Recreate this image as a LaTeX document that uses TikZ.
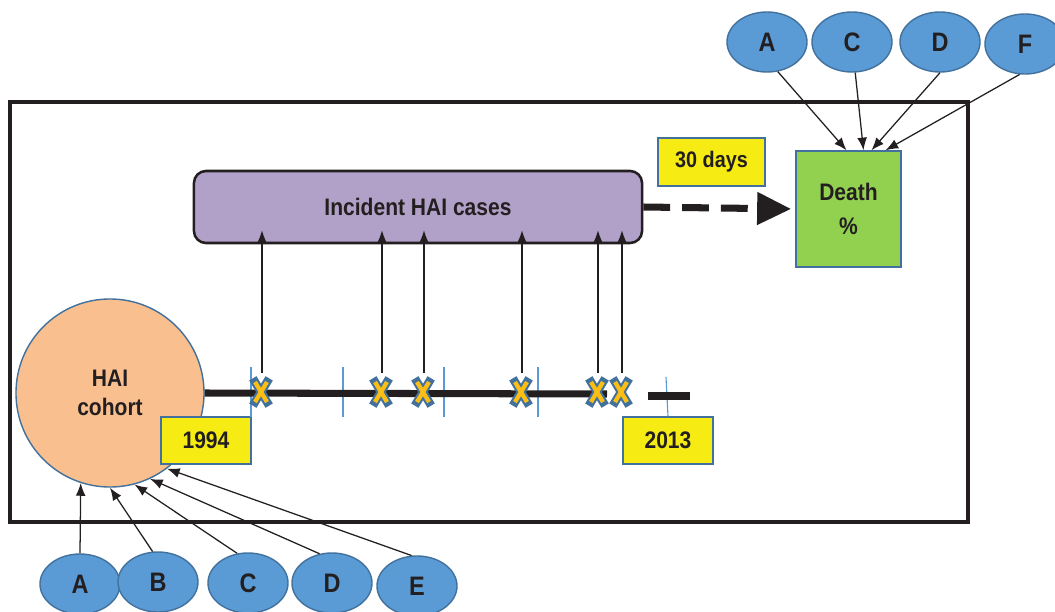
\documentclass[tikz,border=0pt]{standalone}
\usepackage{fontspec}
\setmainfont{Liberation Sans}[FakeStretch=0.88]
\usetikzlibrary{arrows.meta,calc,positioning,shapes.geometric}
\definecolor{ink}{RGB}{35,31,32}
\definecolor{ovalblue}{RGB}{91,155,213}
\definecolor{edgeblue}{RGB}{65,113,156}
\definecolor{casepurple}{RGB}{177,160,199}
\definecolor{haiorange}{RGB}{249,191,143}
\definecolor{tagyellow}{RGB}{246,236,20}
\definecolor{deathgreen}{RGB}{146,208,80}
\definecolor{xyellow}{RGB}{252,190,20}

\begin{document}
\begin{tikzpicture}[x=0.025cm,y=-0.025cm,>={Latex[length=9pt,width=7pt]},
    lbl/.style={font=\bfseries\fontsize{17}{20}\selectfont,text=ink,align=center},
    oval/.style={lbl,ellipse,draw=edgeblue,fill=ovalblue,line width=1pt,
                 minimum width=2cm,minimum height=1.5cm,inner sep=0pt,
                 font=\bfseries\fontsize{19}{22}\selectfont},
    yearbox/.style={lbl,draw=edgeblue,fill=tagyellow,line width=1pt,
                 minimum width=2.25cm,minimum height=1.17cm,inner sep=0pt},
    arr/.style={->,ink,line width=0.9pt},
    tickline/.style={ovalblue,line width=0.8pt}]
  \useasboundingbox (0,0) rectangle (1055,612);
  % outer frame
  \draw[ink,line width=2.8pt] (10,102) rectangle (968,522);
  % incident cases
  \node[lbl,draw=ink,fill=casepurple,rounded corners=0.3cm,line width=1.8pt,
        minimum width=11.2cm,minimum height=1.8cm] (cases) at (418,207) {Incident HAI cases};
  % 30 days and death
  \node[yearbox,minimum width=2.67cm,minimum height=1.2cm,
        font=\bfseries\fontsize{16}{19}\selectfont] (days) at (711.5,162) {30 days};
  \node[lbl,draw=edgeblue,fill=deathgreen,line width=1pt,
        minimum width=2.62cm,minimum height=2.9cm] (death) at (848.5,209) {Death\\[4pt]\%};
  \draw[ink,line width=5pt,dash pattern=on 0.67cm off 0.3cm,shorten >=3pt,
        -{Triangle[length=0.85cm,width=0.78cm]}] (cases.east) -- (death.west);
  % cohort circle
  \node[lbl,circle,draw=edgeblue,fill=haiorange,line width=1pt,
        minimum size=4.7cm,inner sep=0pt] (hai) at (110,393) {HAI\\[1pt]cohort};
  % years
  \node[yearbox] (y1994) at (206,440.5) {1994};
  \node[yearbox] (y2013) at (668,440.5) {2013};
  % timeline
  \foreach \x in {251,343,444,538}
    \draw[tickline] (\x,367) -- (\x,417);
  \draw[tickline] (666,377) -- (y2013.north);
  \draw[ink,line width=5pt] (hai.east) -- (607,394);
  \draw[ink,line width=5pt] (648,396) -- (690,396);
  % incident cases on the timeline
  \foreach \n/\x in {1/261,2/381,3/423,4/521,5/597,6/621} {
    \coordinate (x\n) at (\x,392);
    \draw[arr] ($(x\n)+(1,-19)$) -- ($(x\n |- cases.south)+(1,-14)$);
  }
  \foreach \n in {1,...,6} {
    \draw[edgeblue,line width=6pt,line cap=rect]
      ($(x\n)+(-6,-10)$) -- ($(x\n)+(6,10)$) ($(x\n)+(6,-10)$) -- ($(x\n)+(-6,10)$);
    \draw[xyellow,line width=3pt]
      ($(x\n)+(-6,-10)$) -- ($(x\n)+(6,10)$) ($(x\n)+(6,-10)$) -- ($(x\n)+(-6,10)$);
  }
  % factors for death
  \node[oval] (tA) at (767,42) {A};
  \node[oval] (tC) at (852,42) {C};
  \node[oval] (tD) at (940,42) {D};
  \node[oval] (tF) at (1025,44) {F};
  \draw[arr] (tA.-70) -- ($(death.north)+(-2,0)$);
  \draw[arr] (tC.-84) -- ($(death.north)+(15,0)$);
  \draw[arr] (tD.south) -- ($(death.north)+(23,0)$);
  \draw[arr] (tF.-100) -- ($(death.north)+(37,0)$);
  % factors for cohort
  \node[oval] (bA) at (80,584) {A};
  \node[oval] (bB) at (158,582) {B};
  \node[oval] (bC) at (248,583) {C};
  \node[oval] (bD) at (332,583) {D};
  \node[oval] (bE) at (417,586) {E};
  \draw[arr] (bA.north) -- (hai.-108);
  \draw[arr] (bB.100) -- (hai.-90);
  \draw[arr] (bC.110) -- (hai.-75);
  \draw[arr] (bD.113) -- (hai.-65);
  \draw[arr] (bE.100) -- (hai.-53);
\end{tikzpicture}
\end{document}
